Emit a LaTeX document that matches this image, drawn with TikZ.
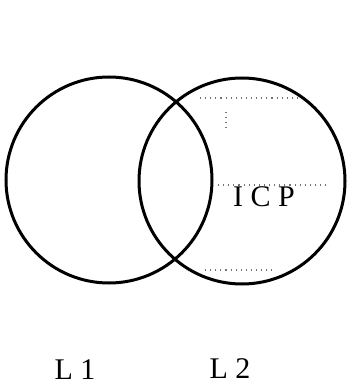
\documentclass[tikz,border=0pt]{standalone}
\usepackage{fontspec}
\setmainfont{Liberation Serif}
\usepackage{tikz}
\usetikzlibrary{positioning}

\begin{document}
\begin{tikzpicture}[x=1pt, y=-1pt,
  set/.style={circle, draw, line width=3pt, minimum size=206pt, inner sep=0pt},
  lab/.style={font=\fontsize{30}{30}\selectfont, inner sep=0pt},
  grain/.style={black!55, line width=1.1pt, dash pattern=on 1.1pt off 4pt}]
  \useasboundingbox (0,0) rectangle (346,385);
  % sets
  \node[set] (s1) at (109,180) {};
  \node[set] (s2) at (242,181) {};
  % shading remnants in L2
  \draw[grain] (200,98) -- (297,98);
  \draw[grain] (226,112) -- (226,128);
  \draw[grain] (218,185) -- (326,185);
  \draw[grain] (205,270) -- (275,270);
  \node[lab] (icp) at (264,197) {I C P};
  % names
  \node[lab] (n1) at (75,370) {L 1};
  \node[lab] (n2) at (230,369) {L 2};
\end{tikzpicture}
\end{document}
